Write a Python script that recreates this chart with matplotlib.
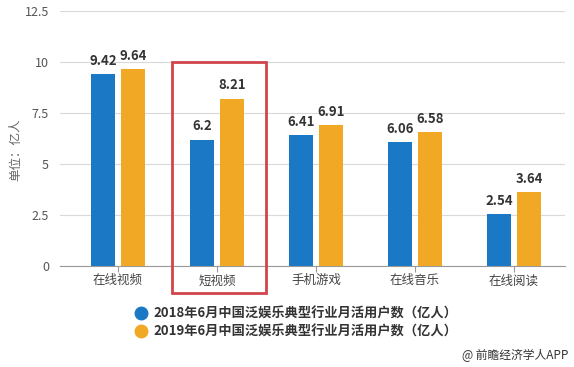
import matplotlib
matplotlib.use('Agg')
import matplotlib.pyplot as plt
from matplotlib.patches import Rectangle
from matplotlib.lines import Line2D
import numpy as np

plt.rcParams['font.family'] = ['Noto Sans CJK SC', 'DejaVu Sans']

categories = ['在线视频', '短视频', '手机游戏', '在线音乐', '在线阅读']
users_2018 = [9.42, 6.2, 6.41, 6.06, 2.54]
users_2019 = [9.64, 8.21, 6.91, 6.58, 3.64]
label_2018 = '2018年6月中国泛娱乐典型行业月活用户数（亿人）'
label_2019 = '2019年6月中国泛娱乐典型行业月活用户数（亿人）'
yticks = [0, 2.5, 5, 7.5, 10, 12.5]
ytick_labels = ['0', '2.5', '5', '7.5', '10', '12.5']

blue = '#1a78c4'
orange = '#f0a825'

fig = plt.figure(figsize=(5.74, 3.67), dpi=100)
ax = fig.add_axes([60 / 574, 101 / 367, 505 / 574, 255 / 367])

x = np.arange(len(categories))
w = 0.235
b1 = ax.bar(x - 0.152, users_2018, w, color=blue, zorder=3)
b2 = ax.bar(x + 0.152, users_2019, w, color=orange, zorder=3)

for bars, vals in [(b1, users_2018), (b2, users_2019)]:
    for r, v in zip(bars, vals):
        ax.text(r.get_x() + r.get_width() / 2, v + 0.3, f'{v:g}', ha='center', va='bottom',
                fontsize=9.5, fontweight='bold', color='#333333')

ax.set_xlim(-0.586, 4.515)
ax.set_ylim(0, 12.5)
ax.set_yticks(yticks)
ax.set_yticklabels(ytick_labels)
ax.set_xticks(x)
ax.set_xticklabels(categories)
ax.grid(axis='y', color='#d9d9d9', linewidth=0.8, zorder=0)
for s in ['top', 'right', 'left']:
    ax.spines[s].set_visible(False)
ax.spines['bottom'].set_color('#999999')
ax.tick_params(axis='y', length=0, labelsize=9, labelcolor='#555555', pad=8)
ax.tick_params(axis='x', length=4, color='#999999', labelsize=9, labelcolor='#444444', pad=2)
fig.text(16 / 574, 1 - 150 / 367, '单位：亿人', rotation=90, ha='center', va='center',
         fontsize=9, color='#666666')

# highlight box around 短视频
ax.add_patch(Rectangle((0.545, -1.32), 0.95, 11.32, fill=False, edgecolor='#d0454a',
                       linewidth=2, clip_on=False, zorder=5))

handles = [Line2D([], [], linestyle='none', marker='o', markersize=9, color=c) for c in (blue, orange)]
leg = fig.legend(handles, [label_2018, label_2019], loc='upper left',
                 bbox_to_anchor=(124 / 574, 1 - 295 / 367), frameon=False,
                 handlelength=0.8, handletextpad=0.5, labelspacing=0.25,
                 prop={'weight': 'bold', 'size': 9.5})
for t in leg.get_texts():
    t.set_color('#333333')

fig.text(568 / 574, 1 - 355 / 367, '@ 前瞻经济学人APP', ha='right', va='center', fontsize=8.5,
         color='#333333')

fig.savefig('out.png', dpi=100)
